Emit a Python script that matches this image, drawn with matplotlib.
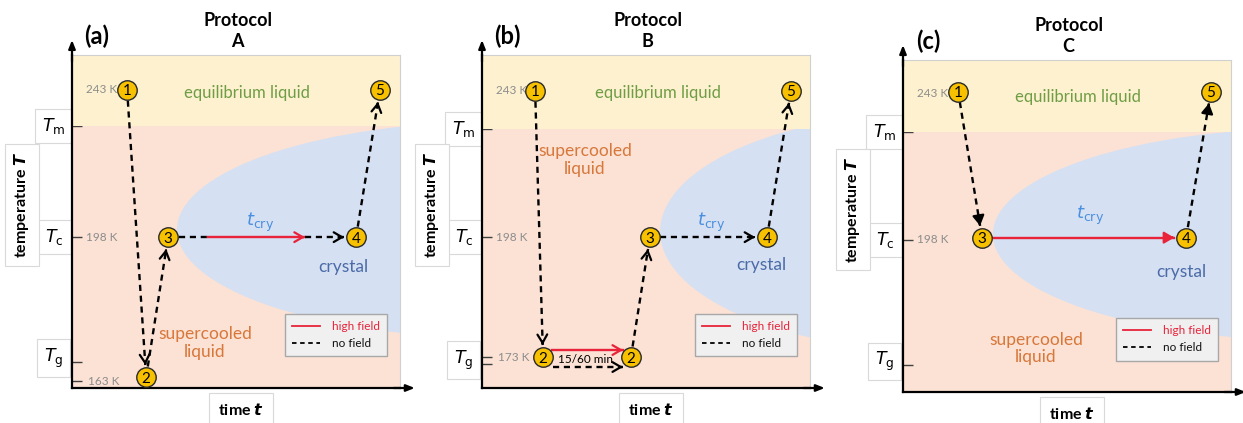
import numpy as np
import matplotlib.pyplot as plt
from matplotlib.patches import Ellipse, Rectangle
from matplotlib.lines import Line2D

plt.rcParams['font.family'] = ['Lato', 'DejaVu Sans']
plt.rcParams['mathtext.fontset'] = 'dejavusans'

# schematic axes: time 0-100, temperature 0-100 (arbitrary units)
panel_tags = ['(a)', '(b)', '(c)']
protocols = ['A', 'B', 'C']

level_243 = [89.5, 89.2, 90.0]
level_m = [78.7, 77.8, 78.3]
level_c = [45.3, 45.3, 45.8]
level_g = [7.8, 7.2, 8.1]
low_levels = [2.1, 9.3, None]
low_names = ['163 K', '173 K', None]

# numbered steps of each protocol
steps_num = [['1', '2', '3', '4', '5'],
             ['1', '2', '2', '3', '4', '5'],
             ['1', '3', '4', '5']]
steps_t = [[16.8, 22.6, 29.3, 86.6, 93.9],
           [16.2, 18.6, 45.4, 51.2, 86.9, 94.2],
           [16.8, 24.1, 86.3, 93.9]]
steps_T = [[89.5, 3.3, 45.3, 45.3, 89.5],
           [89.2, 9.3, 9.3, 45.3, 45.3, 89.2],
           [90.5, 46.5, 46.5, 90.5]]

# no-field moves (index pairs into the steps)
moves_dashed = [[(0, 1), (1, 2), (3, 4)],
                [(0, 1), (2, 3), (3, 4), (4, 5)],
                [(0, 1), (2, 3)]]

# high field segments: (t0, t1, T)
field_a = (41.5, 71.0, 45.3)
field_b = (21.3, 43.0, 11.4)
hold_b = (21.6, 43.0, 6.3)   # no-field hold at Tg, protocol B
hold_label = '15/60 min'

# crystal region (ellipse centre t, centre T, half width, half height)
crystal = [(130, 47.5, 98, 32.5), (140, 47.0, 85.7, 36), (125, 47.5, 97.6, 32)]

# positions of region names
txt_eq = [(53.3, 88.6), (53.6, 88.6), (53.4, 88.9)]
txt_super = [(40.5, 13.5), (31.4, 68.5), (40.5, 13.2)]
txt_cry = [(57.3, 49.8), (70.0, 49.8), (57.0, 53.3)]
txt_crystal = [(82.6, 36.3), (85.2, 37.0), (85.0, 36.1)]

axes_rect = [[72, 388, 328, 333], [482, 388, 328, 333], [903, 392, 328, 332]]

c_yellow = '#fdf1cf'
c_peach = '#fbe2d5'
c_blue = '#d5e0f2'
c_red = '#e8233a'
c_gold = '#f7c100'
box = dict(boxstyle='square,pad=0.4', fc='white', ec='#d9d9d9', lw=0.8)

W, H = 1243, 423
fig = plt.figure(figsize=(W / 100, H / 100), dpi=100)


def arrow_head(ax, tip, u, color, filled):
    style = ('-|>' if filled else '->') + ',head_length=0.6,head_width=0.35'
    ax.annotate('', xy=tip, xytext=tip - u * 0.6,
                arrowprops=dict(arrowstyle=style, color=color, lw=1.6,
                                shrinkA=0, shrinkB=0),
                annotation_clip=False, zorder=4)


def draw_move(ax, p0, p1, color='k', dashed=True, filled=False, gap0=3.2, gap1=3.6,
              head=True):
    p0, p1 = np.array(p0, float), np.array(p1, float)
    u = (p1 - p0) / np.hypot(*(p1 - p0))
    a = p0 + u * gap0
    b = p1 - u * gap1
    ls = (0, (2.6, 2.0)) if dashed else '-'
    ax.plot([a[0], b[0]], [a[1], b[1]], color=color, lw=1.7, ls=ls, zorder=4)
    if head:
        arrow_head(ax, b, u, color, filled)


for i in range(3):
    x0, y0, w, h = axes_rect[i]
    ax = fig.add_axes([x0 / W, (H - y0) / H, w / W, h / H])
    ax.set_xlim(0, 100)
    ax.set_ylim(0, 100)
    ax.patch.set_alpha(0)

    # phase regions
    ax.add_patch(Rectangle((0, 0), 100, level_m[i], fc=c_peach, ec='none', zorder=0))
    ct, cT, ca, cb = crystal[i]
    ax.add_patch(Ellipse((ct, cT), 2 * ca, 2 * cb, fc=c_blue, ec='none', zorder=1))
    ax.add_patch(Rectangle((0, level_m[i]), 100, 100 - level_m[i], fc=c_yellow,
                           ec='none', zorder=2))

    for s in ['top', 'right']:
        ax.spines[s].set_color('#d0d0d0')
        ax.spines[s].set_linewidth(0.8)
    for s in ['left', 'bottom']:
        ax.spines[s].set_linewidth(1.6)
        ax.spines[s].set_zorder(6)
    ax.annotate('', xy=(0, 104.5), xytext=(0, 98), annotation_clip=False,
                arrowprops=dict(arrowstyle='-|>,head_length=0.5,head_width=0.2',
                                color='k', lw=1.6, shrinkA=0, shrinkB=0))
    ax.annotate('', xy=(104.5, 0), xytext=(98, 0), annotation_clip=False,
                arrowprops=dict(arrowstyle='-|>,head_length=0.5,head_width=0.2',
                                color='k', lw=1.6, shrinkA=0, shrinkB=0))

    ticks = [level_243[i], level_m[i], level_c[i], level_g[i]]
    if low_levels[i] is not None:
        ticks.append(low_levels[i])
    ax.set_yticks(ticks)
    ax.set_xticks([])
    ax.tick_params(axis='y', direction='in', length=7, width=1, color='#404040',
                   labelleft=False)

    grey = '#8c8c8c'
    ax.text(4.3, level_243[i], '243 K', fontsize=8.5, color=grey, va='center', zorder=3)
    ax.text(4.3, level_c[i], '198 K', fontsize=8.5, color=grey, va='center', zorder=3)
    if low_levels[i] is not None:
        ax.text(4.8, low_levels[i], low_names[i], fontsize=8.5, color=grey, va='center',
                zorder=3)

    # level names in boxes left of the axis
    ax.text(-5.6, level_m[i], r'$T_\mathrm{m}$', fontsize=12.5, ha='center', va='center',
            bbox=box, clip_on=False)
    ax.text(-5.3, level_c[i], r'$T_\mathrm{c}$', fontsize=12.5, ha='center', va='center',
            bbox=box, clip_on=False)
    ax.text(-5.6, level_g[i] + 1.2, r'$T_\mathrm{g}$', fontsize=12.5, ha='center',
            va='center', bbox=box, clip_on=False)
    ax.text(-15.3, 55, r'temperature $\boldsymbol{T}$', fontsize=11.5, fontweight='bold',
            rotation=90, ha='center', va='center',
            bbox=dict(boxstyle='square,pad=0.45', fc='white', ec='#d9d9d9', lw=0.8),
            clip_on=False)
    ax.text(51.5, -6.5, r'time $\boldsymbol{t}$', fontsize=11.5, fontweight='bold',
            ha='center', va='center',
            bbox=dict(boxstyle='square,pad=0.55', fc='white', ec='#d9d9d9', lw=0.8),
            clip_on=False)

    ax.text(50.5, 107.2, 'Protocol\n' + protocols[i], fontsize=13, fontweight='bold',
            ha='center', va='center', linespacing=1.3, clip_on=False)
    ax.text(7.6, 105.5, panel_tags[i], fontsize=17, fontweight='bold', ha='center',
            va='center', clip_on=False)

    # region names
    ax.text(*txt_eq[i], 'equilibrium liquid', fontsize=12, color='#6e9d45',
            ha='center', va='center', zorder=3)
    ax.text(*txt_super[i], 'supercooled\nliquid', fontsize=12.5, color='#d8773a',
            ha='center', va='center', linespacing=1.1, zorder=3)
    ax.text(*txt_cry[i], r'$t_\mathrm{cry}$', fontsize=13, color='#4a8fe0',
            ha='center', va='center', zorder=3)
    ax.text(*txt_crystal[i], 'crystal', fontsize=12.5, color='#4b6ba8',
            ha='center', va='center', zorder=3)

    # protocol path
    pts = list(zip(steps_t[i], steps_T[i]))
    filled = i == 2
    for j0, j1 in moves_dashed[i]:
        draw_move(ax, pts[j0], pts[j1], filled=filled)
    if i == 0:
        t0, t1, T = field_a
        draw_move(ax, pts[2], (t0, T), gap1=0, head=False)
        draw_move(ax, (t0, T), (t1, T), color=c_red, dashed=False, gap0=0, gap1=0)
        draw_move(ax, (t1, T), pts[3], gap0=0)
    elif i == 1:
        t0, t1, T = field_b
        draw_move(ax, (t0, T), (t1, T), color=c_red, dashed=False, gap0=0, gap1=0)
        t0, t1, T = hold_b
        draw_move(ax, (t0, T), (t1, T), gap0=0, gap1=0)
        ax.text(31.7, 8.7, hold_label, fontsize=8.5, ha='center', va='center', zorder=5)
    else:
        draw_move(ax, pts[1], pts[2], color=c_red, dashed=False, filled=True)

    ax.plot(steps_t[i], steps_T[i], 'o', ms=14, mfc=c_gold, mec='#2a2a2a', mew=1,
            zorder=7, clip_on=False)
    for n, t, T in zip(steps_num[i], steps_t[i], steps_T[i]):
        ax.text(t, T, n, fontsize=11, ha='center', va='center_baseline', zorder=8)

    handles = [Line2D([], [], color=c_red, lw=1.3),
               Line2D([], [], color='k', lw=1.3, ls=(0, (2.5, 2.0)))]
    leg = ax.legend(handles, ['high field', 'no field'], loc='lower left',
                    bbox_to_anchor=(0.63, 0.077), fontsize=8.5,
                    labelcolor=[c_red, '#111111'], fancybox=False,
                    edgecolor='#a8a8a8', facecolor='#f0f0f0', framealpha=1,
                    handlelength=2.4, handletextpad=1.0, labelspacing=0.55,
                    borderpad=0.6)
    leg.set_zorder(9)

fig.savefig('out.png', dpi=100)
